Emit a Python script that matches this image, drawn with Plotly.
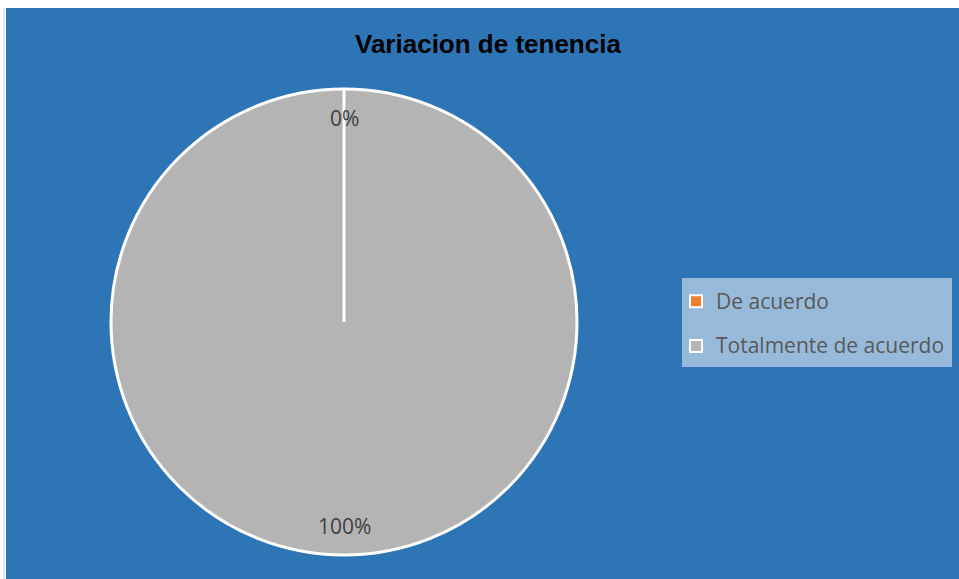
import math
import plotly.graph_objects as go

# Data
categories = ["De acuerdo", "Totalmente de acuerdo"]
values = [0, 100]
colors = ["#ED7D31", "#B4B4B4"]
title_text = "Variacion de tenencia"

W, H = 959, 579
BLUE = "#2E75B6"

# pie geometry (pixels)
cx, cy, r = 344, 322, 233
dom_x = [(cx - r) / W, (cx + r) / W]
dom_y = [1 - (cy + r) / H, 1 - (cy - r) / H]

# legend labels: smaller text inside a taller legend line
legend_labels = [
    f'<span style="font-size:21px;baseline-shift:5px">{c}</span>' for c in categories
]

fig = go.Figure()
fig.add_trace(go.Pie(
    labels=legend_labels,
    values=values,
    sort=False,
    direction="clockwise",
    rotation=0,
    marker=dict(colors=colors, line=dict(color="white", width=3)),
    textinfo="none",
    hoverinfo="label+percent",
    domain=dict(x=dom_x, y=dom_y),
    showlegend=True,
))

total = sum(values)
start = 0.0
annotations = []
shapes = [
    dict(type="rect", xref="paper", yref="paper", layer="below",
         x0=6 / W, x1=1.01, y0=-0.01, y1=1 - 8 / H,
         fillcolor=BLUE, line=dict(width=0)),
    dict(type="line", xref="paper", yref="paper", layer="below",
         x0=4 / W, x1=4 / W, y0=0, y1=1 - 8 / H,
         line=dict(color="#D0D0D0", width=1)),
    dict(type="rect", xref="paper", yref="paper", layer="below",
         x0=682 / W, x1=952 / W, y0=1 - 367 / H, y1=1 - 278 / H,
         fillcolor="rgba(255,255,255,0.5)", line=dict(width=0)),
]
for v in values:
    frac = v / total
    a0 = start * 2 * math.pi
    mid = start + frac / 2
    start += frac
    if v == 0:
        # border of an empty slice: radial white line
        shapes.append(dict(
            type="line", xref="paper", yref="paper", layer="above",
            x0=cx / W, y0=1 - cy / H,
            x1=(cx + r * math.sin(a0)) / W, y1=1 - (cy - r * math.cos(a0)) / H,
            line=dict(color="white", width=3),
        ))
    ang = mid * 2 * math.pi  # clockwise from 12 o'clock
    rr = r * 0.875
    px = cx + rr * math.sin(ang)
    py = cy - rr * math.cos(ang)
    annotations.append(dict(
        x=px / W, y=1 - py / H, xref="paper", yref="paper",
        text=f"{round(frac * 100)}%", showarrow=False,
        font=dict(family="Open Sans", size=21, color="#404040"),
        xanchor="center", yanchor="middle",
    ))

annotations.append(dict(
    x=488 / W, y=1 - 44 / H, xref="paper", yref="paper",
    text=f"<b>{title_text}</b>", showarrow=False,
    font=dict(family="Liberation Sans", size=26, color="black"),
    xanchor="center", yanchor="middle",
))

fig.update_layout(
    width=W, height=H,
    margin=dict(l=0, r=0, t=0, b=0),
    paper_bgcolor="white",
    plot_bgcolor="white",
    shapes=shapes,
    annotations=annotations,
    legend=dict(
        x=676 / W, y=1 - 274 / H, xanchor="left", yanchor="top",
        bgcolor="rgba(0,0,0,0)",
        font=dict(family="Open Sans", size=32, color="#595959"),
        itemsizing="constant",
        tracegroupgap=0,
    ),
)

fig.write_html("out.html", config={"displayModeBar": False},
               post_script="document.body.style.margin='0';")
